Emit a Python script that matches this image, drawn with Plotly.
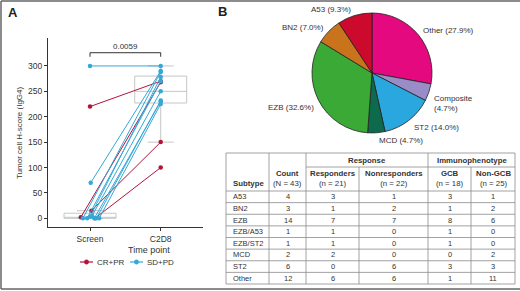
import plotly.graph_objects as go

W, H = 520, 291

# ---------------- Panel A data ----------------
patient_response = ["SD+PD", "SD+PD", "SD+PD", "SD+PD", "SD+PD", "SD+PD", "SD+PD", "SD+PD", "SD+PD",
                    "CR+PR", "CR+PR", "CR+PR", "CR+PR"]
screen_score = [300, 70, 0, 0, 5, 0, 0, 0, 3, 220, 15, 0, 2]
c2d8_score = [300, 290, 288, 270, 250, 230, 232, 225, 278, 270, 150, 100, 268]
screen_jitter = [0.0, 0.01, -0.10, -0.04, 0.03, 0.06, 0.09, 0.13, 0.0, 0.0, 0.02, 0.07, -0.13]
timepoints = ["Screen", "C2D8"]
groups = ["CR+PR", "SD+PD"]
box_q1 = [0, 227]
box_median = [0, 250]
box_q3 = [10, 280]
box_low = [0, 150]
box_high = [15, 300]
p_value = "0.0059"

# ---------------- Panel B data ----------------
pie_labels = ["Other", "Composite", "ST2", "MCD", "EZB", "BN2", "A53"]
pie_counts = [12, 2, 6, 2, 14, 3, 4]
pie_colors = ["#e4097f", "#9a8cc6", "#2aa7df", "#0e6a4c", "#3aa935", "#c9731c", "#cb0a2d"]

tbl_subtype = ["A53", "BN2", "EZB", "EZB/A53", "EZB/ST2", "MCD", "ST2", "Other"]
tbl_count = [4, 3, 14, 1, 1, 2, 6, 12]
tbl_resp = [3, 1, 7, 1, 1, 2, 0, 6]
tbl_nonresp = [1, 2, 7, 0, 0, 0, 6, 6]
tbl_gcb = [3, 1, 8, 1, 1, 0, 3, 1]
tbl_nongcb = [1, 2, 6, 0, 0, 2, 3, 11]

RED = "#b5123a"
BLUE = "#34a8d6"
GROUP_COLORS = {"CR+PR": RED, "SD+PD": BLUE}
TXT = "#333333"
FONT = "Liberation Sans, Arial, sans-serif"
NARROW = "Liberation Sans Narrow, Liberation Sans, Arial, sans-serif"


def X(px):
    return px / W


def Y(py):
    return 1 - py / H


fig = go.Figure()

# boxes
for i, tp in enumerate(timepoints):
    fig.add_trace(go.Box(
        x=[i], q1=[box_q1[i]], median=[box_median[i]], q3=[box_q3[i]],
        lowerfence=[box_low[i]], upperfence=[box_high[i]],
        width=0.735, line=dict(color="#c6c6c6", width=1),
        fillcolor="rgba(0,0,0,0)", boxpoints=False, showlegend=False,
        hoverinfo="skip", xaxis="x", yaxis="y"))

# paired lines
for grp in groups:
    col = GROUP_COLORS[grp]
    xs, ys = [], []
    for r, s, c, j in zip(patient_response, screen_score, c2d8_score, screen_jitter):
        if r != grp:
            continue
        xs += [0 + j, 1, None]
        ys += [s, c, None]
    fig.add_trace(go.Scatter(
        x=xs, y=ys, mode="lines+markers", name=grp, showlegend=False,
        line=dict(color=col, width=1), marker=dict(color=col, size=4.5),
        xaxis="x", yaxis="y"))

shapes = []
annotations = []

# significance bracket
shapes.append(dict(type="path", xref="x", yref="y",
                   path="M 0,318 L 0,326 L 1,326 L 1,318",
                   line=dict(color="#333333", width=1)))
annotations.append(dict(x=0.5, y=326, xref="x", yref="y", text=p_value, showarrow=False,
                        yanchor="bottom", font=dict(size=8, color=TXT, family=FONT)))

# axis titles panel A
annotations.append(dict(x=X(125.5), y=Y(250), xref="paper", yref="paper", text="Time point",
                        showarrow=False, yanchor="middle", font=dict(size=9, color=TXT, family=NARROW)))
annotations.append(dict(x=X(20), y=Y(133), xref="paper", yref="paper",
                        text="Tumor cell H-score (IgG4)", textangle=-90, xanchor="center",
                        showarrow=False, font=dict(size=8, color=TXT, family=NARROW)))

# custom compact legend
leg_x = [80, 130]
for gx, grp in zip(leg_x, groups):
    col = GROUP_COLORS[grp]
    shapes.append(dict(type="line", xref="paper", yref="paper", x0=X(gx), x1=X(gx + 13),
                       y0=Y(262), y1=Y(262), line=dict(color=col, width=1.2)))
    shapes.append(dict(type="circle", xref="paper", yref="paper", x0=X(gx + 4.3), x1=X(gx + 8.7),
                       y0=Y(264.2), y1=Y(259.8), fillcolor=col, line=dict(color=col, width=0.5)))
    annotations.append(dict(x=X(gx + 15), y=Y(262), xref="paper", yref="paper", text=grp,
                            showarrow=False, xanchor="left", yanchor="middle",
                            font=dict(size=8, color=TXT, family=FONT)))

# panel letters
annotations.append(dict(x=X(6), y=Y(13), xref="paper", yref="paper", text="<b>A</b>",
                        showarrow=False, xanchor="left", yanchor="middle",
                        font=dict(size=13, color="#222", family=FONT)))
annotations.append(dict(x=X(216), y=Y(12), xref="paper", yref="paper", text="<b>B</b>",
                        showarrow=False, xanchor="left", yanchor="middle",
                        font=dict(size=13, color="#222", family=FONT)))

# pie
total = sum(pie_counts)
fig.add_trace(go.Pie(
    labels=pie_labels, values=pie_counts, sort=False, direction="clockwise", rotation=0,
    marker=dict(colors=pie_colors, line=dict(color="#222222", width=0.8)),
    textinfo="none", showlegend=False, hoverinfo="label+percent",
    domain=dict(x=[X(312), X(432)], y=[Y(133), Y(13)])))

pie_label_pos = {
    "Other": (421, 31, "left"),
    "Composite": (432, 103, "left"),
    "ST2": (412, 127, "left"),
    "MCD": (377, 140, "left"),
    "EZB": (316, 107, "right"),
    "BN2": (326, 27, "right"),
    "A53": (353, 10, "right"),
}
for lab, cnt in zip(pie_labels, pie_counts):
    pct = f"({100 * cnt / total:.1f}%)"
    txt = f"{lab}<br>{pct}" if lab == "Composite" else f"{lab} {pct}"
    px, py, anc = pie_label_pos[lab]
    annotations.append(dict(x=X(px), y=Y(py), xref="paper", yref="paper", text=txt,
                            showarrow=False, xanchor=anc, yanchor="middle", align="left",
                            font=dict(size=8, color=TXT, family=FONT)))

# table
cols = [226, 269, 306, 359, 428, 471, 515]
t_top, t_mid, t_head = 153, 167, 191
t_bot = 284
rh = (t_bot - t_head) / len(tbl_subtype)
LC = "#8a8a8a"


def hline(x0, x1, y):
    shapes.append(dict(type="line", xref="paper", yref="paper", x0=X(x0), x1=X(x1), y0=Y(y), y1=Y(y),
                       line=dict(color=LC, width=0.8)))


def vline(x, y0, y1):
    shapes.append(dict(type="line", xref="paper", yref="paper", x0=X(x), x1=X(x), y0=Y(y0), y1=Y(y1),
                       line=dict(color=LC, width=0.8)))


hline(cols[0], cols[-1], t_top)
hline(cols[2], cols[-1], t_mid)
hline(cols[0], cols[-1], t_head)
for k in range(1, len(tbl_subtype) + 1):
    hline(cols[0], cols[-1], t_head + k * rh)
for c in [cols[0], cols[1], cols[2], cols[4], cols[6]]:
    vline(c, t_top, t_bot)
for c in [cols[3], cols[5]]:
    vline(c, t_mid, t_bot)


def tann(x, y, text, anc="center", size=7.8):
    annotations.append(dict(x=X(x), y=Y(y), xref="paper", yref="paper", text=text,
                            showarrow=False, xanchor=anc, yanchor="middle", align="center",
                            font=dict(size=size, color=TXT, family=FONT)))


tann((cols[2] + cols[4]) / 2, (t_top + t_mid) / 2, "<b>Response</b>")
tann((cols[4] + cols[6]) / 2, (t_top + t_mid) / 2, "<b>Immunophenotype</b>")
tann(cols[0] + 5, 183, "<b>Subtype</b>", anc="left")
heads = [("Count", "N", tbl_count), ("Responders", "n", tbl_resp), ("Nonresponders", "n", tbl_nonresp),
         ("GCB", "n", tbl_gcb), ("Non-GCB", "n", tbl_nongcb)]
for ci, (hname, nn, arr) in enumerate(heads):
    cx = (cols[ci + 1] + cols[ci + 2]) / 2
    tann(cx, 178.5, f"<b>{hname}</b><br>({nn} = {sum(arr)})")
for r, st in enumerate(tbl_subtype):
    cy = t_head + (r + 0.5) * rh
    tann(cols[0] + 5, cy, st, anc="left", size=7.5)
    for ci, (_, _, arr) in enumerate(heads):
        cx = (cols[ci + 1] + cols[ci + 2]) / 2
        tann(cx, cy, str(arr[r]), size=7.5)

# outer frame
for (x0, y0, x1, y1) in [(1, 1, 520, 1), (1, 289, 520, 289), (1, 1, 1, 289)]:
    shapes.append(dict(type="line", xref="paper", yref="paper", x0=X(x0), x1=X(x1), y0=Y(y0), y1=Y(y1),
                       line=dict(color="#666666", width=1.5)))

fig.update_layout(
    width=W, height=H, margin=dict(l=0, r=0, t=0, b=0),
    paper_bgcolor="white", plot_bgcolor="white", showlegend=False,
    font=dict(family=FONT, color=TXT, size=8.5),
    xaxis=dict(domain=[X(48), X(203)], range=[-0.594, 1.598], tickvals=[0, 1], ticktext=timepoints,
               showline=True, linecolor="#333333", linewidth=1.3, ticks="outside", ticklen=3,
               tickcolor="#333333", showgrid=False, zeroline=False, tickfont=dict(size=8.5)),
    yaxis=dict(domain=[Y(227.3), Y(38)], range=[-17.7, 355], tickvals=[0, 50, 100, 150, 200, 250, 300],
               showline=True, linecolor="#333333", linewidth=1.3, ticks="outside", ticklen=3,
               tickcolor="#333333", showgrid=False, zeroline=False, tickfont=dict(size=8.5)),
    shapes=shapes, annotations=annotations,
)

fig.write_html("out.html", config={"displayModeBar": False},
               post_script="document.body.style.margin='0';document.body.style.overflow='hidden';")
